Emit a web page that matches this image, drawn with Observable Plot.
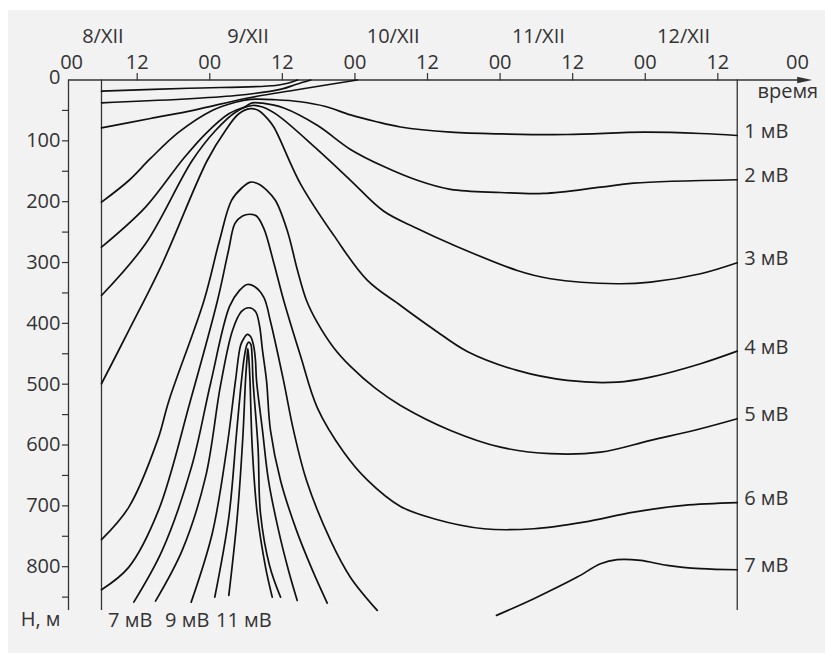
<!DOCTYPE html>
<html>
<head>
<meta charset="utf-8">
<script src="https://cdn.jsdelivr.net/npm/d3@7"></script>
<script src="https://cdn.jsdelivr.net/npm/@observablehq/plot@0.6"></script>
<style>
  body { margin: 0; background: #ffffff; }
  #panel { position: absolute; left: 8px; top: 10px; width: 817px; height: 643px; background: #f2f2f2; }
  #chart { position: absolute; left: 0; top: 0; }
</style>
</head>
<body>
<div id="panel"></div>
<div id="chart"></div>
<script>
// ---- Data: time in hours from 8/XII 00:00, depth H in metres ----
const surfaceA = [[6.1,18.4],[20.5,13.6],[34.9,9.0],[36.9,5.3],[38.5,0]];
const surfaceB = [[6.1,37.5],[28.3,25.5],[36.0,14.5],[38.2,7.4],[40.7,0]];
const surfaceC = [[6.1,78.6],[14.2,63.3],[21.64,49.0],[29.91,30.4],[38.17,16.4],[48.38,0]];

const mv1 = [[6.10,200.8],[10.62,165.2],[14.20,129.0],[18.88,85.8],[24.40,50.1],[28.26,36.5],[30.74,31.9],[34.87,32.5],[39.00,35.8],[43.14,43.6],[47.27,57.4],[51.41,68.2],[55.54,77.2],[63.81,85.6],[72.07,88.6],[83.10,89.6],[95.77,85.8],[105.14,87.9],[111.21,91.2]];
const mv2 = [[6.10,274.8],[13.38,209.0],[19.66,129.0],[23.30,88.4],[27.15,55.5],[29.91,43.6],[31.02,37.6],[32.72,38.1],[36.24,46.0],[41.77,74.4],[47.27,114.1],[52.78,142.3],[58.30,164.8],[63.81,179.9],[72.07,184.9],[79.18,186.5],[88.61,176.2],[94.06,169.6],[111.21,164.0]];
const mv3 = [[6.10,354.2],[13.38,269.2],[21.10,132.3],[24.95,83.0],[28.26,52.9],[31.02,41.9],[32.72,44.4],[35.15,57.4],[41.77,114.1],[47.27,164.8],[52.78,215.8],[58.30,244.0],[63.81,269.2],[74.83,313.1],[80.34,326.7],[91.37,334.9],[96.88,332.3],[105.14,318.5],[111.21,300.4]];
const mv4 = [[6.10,499.3],[10.62,411.7],[16.14,302.1],[23.58,132.3],[26.60,83.0],[28.80,55.5],[30.74,47.2],[32.06,50.1],[33.50,63.1],[34.59,77.2],[39.00,170.6],[44.51,255.4],[50.03,329.0],[55.54,370.6],[61.05,410.0],[66.57,446.2],[74.83,477.4],[83.10,493.8],[91.37,496.6],[96.88,488.4],[105.14,466.4],[111.21,445.7]];
const mv5 = [[6.10,755.6],[10.62,702.1],[15.36,592.4],[17.26,526.7],[23.05,362.4],[25.61,263.8],[27.60,198.0],[29.37,176.7],[30.74,167.8],[32.06,170.9],[33.50,181.9],[34.87,198.0],[36.81,247.3],[38.51,313.1],[40.00,362.4],[41.77,398.5],[44.46,439.6],[47.27,470.8],[51.41,507.0],[55.54,534.9],[63.81,576.0],[72.07,603.5],[80.34,614.3],[88.61,611.7],[96.88,592.4],[105.14,573.2],[111.21,556.8]];
const mv6 = [[6.10,837.8],[10.62,800.7],[15.52,707.5],[20.81,526.7],[25.28,362.4],[27.10,280.2],[28.17,235.8],[29.41,223.5],[30.62,220.7],[31.73,223.5],[32.94,244.0],[34.59,300.7],[36.24,363.0],[39.00,453.4],[41.77,538.4],[46.16,611.8],[50.03,657.2],[55.54,700.9],[61.05,721.1],[69.31,737.6],[77.58,737.6],[85.85,726.7],[94.11,710.3],[102.38,699.3],[111.21,694.8]];
const mv7 = [[11.44,858.2],[16.14,773.2],[20.98,636.3],[24.13,498.8],[27.27,372.2],[28.92,345.9],[30.19,336.1],[31.40,339.4],[32.94,357.3],[34.04,396.9],[36.19,493.8],[37.85,576.0],[40.00,658.2],[43.97,756.8],[47.27,817.6],[51.69,871.8]];
const mv7right = [[71.41,880],[77.58,852.6],[84.76,817.1],[88.61,795.1],[91.37,788.5],[95.22,789.7],[99.64,797.9],[105.14,803.3],[111.21,805.0]];
const mv8 = [[15.03,856.5],[19.44,773.2],[23.30,652.8],[25.78,502.0],[27.76,411.7],[29.25,380.4],[30.46,374.4],[31.56,380.4],[32.22,403.5],[32.72,444.5],[33.38,493.8],[34.04,576.0],[35.70,658.2],[38.34,740.3],[40.99,806.1],[43.42,859.8]];
const mv9 = [[20.93,858.2],[24.40,745.8],[26.77,608.9],[28.26,493.8],[29.09,436.3],[29.63,424.8],[30.19,418.2],[30.74,421.5],[31.24,436.3],[31.56,461.0],[31.73,493.8],[32.72,576.0],[33.71,658.2],[35.37,740.3],[37.02,806.1],[38.46,855.4]];
const mv10 = [[24.83,850.0],[27.15,718.5],[28.42,581.4],[29.25,493.8],[29.75,452.8],[30.16,434.7],[30.46,430.9],[30.79,434.7],[30.99,452.8],[31.15,493.8],[31.98,603.5],[32.39,712.9],[33.88,797.9],[35.70,850.0]];
const mv11 = [[27.15,847.2],[28.54,718.5],[29.50,581.4],[29.91,493.8],[30.16,457.7],[30.29,441.7],[30.46,457.7],[30.65,493.8],[31.02,603.5],[31.85,712.9],[33.22,800.7],[34.33,850.0]];

// observation period (vertical lines) and axis extents
const periodBounds = [6.1, 111.21];
const timeStart = 0.645;      // left edge of the time axis
const timeArrowEnd = 123.6;   // tip of the time arrow
const depthMax = 872;

// tick labels
const timeTicks = [12, 24, 36, 48, 60, 72, 84, 96, 108];
const timeEnds = [0, 120];
const dayLabels = ["8/XII", "9/XII", "10/XII", "11/XII", "12/XII"];
const dayHours = [6, 30, 54, 78, 102];
const depthTicks = [50,100,150,200,250,300,350,400,450,500,550,600,650,700,750,800,850];
const rightLabels = ["1 мВ", "2 мВ", "3 мВ", "4 мВ", "5 мВ", "6 мВ", "7 мВ"];
const bottomLabels = ["7 мВ", "9 мВ", "11 мВ"];
const bottomLabelHours = [10.85, 20.27, 29.63];

// ---- build table ----
const allSeries = {surfaceA, surfaceB, surfaceC, mv1, mv2, mv3, mv4, mv5, mv6, mv7, mv7right, mv8, mv9, mv10, mv11};
const rows = Object.entries(allSeries).flatMap(([name, pts]) =>
  pts.map(([hour, depth]) => ({series: name, hour, depth})));
const rightSeries = [mv1, mv2, mv3, mv4, mv5, mv6, mv7right];
const rightTable = rightSeries.map((pts, i) => ({hour: pts.at(-1)[0], depth: pts.at(-1)[1], label: rightLabels[i]}));

const ink = "#333333";
const arrowHead = {
  draw(ctx) { ctx.moveTo(0, 0); ctx.lineTo(-15, -3.3); ctx.lineTo(-15, 3.3); ctx.closePath(); }
};

const chart = Plot.plot({
  width: 825,
  height: 653,
  marginLeft: 68,
  marginTop: 79.5,
  marginRight: 35.1,
  marginBottom: 43,
  x: {domain: [timeStart, 120], range: [68, 789.9], axis: null},
  y: {domain: [0, depthMax], range: [79.5, 610], axis: null},
  style: {background: "transparent", fontFamily: "'Open Sans', sans-serif", fontSize: "20px", color: ink, overflow: "visible"},
  marks: [
    // axes lines
    Plot.ruleY([0], {x1: timeStart, x2: timeArrowEnd - 1, stroke: ink, strokeWidth: 1.3}),
    Plot.dot([timeArrowEnd], {x: d => d, y: 0, symbol: arrowHead, fill: ink, stroke: "none", r: 4}),
    Plot.ruleX([timeStart], {y1: 0, y2: depthMax, stroke: ink, strokeWidth: 1.3}),
    Plot.ruleX(periodBounds, {y1: 0, y2: depthMax, stroke: ink, strokeWidth: 1.3}),
    // time axis
    Plot.axisX(timeTicks, {anchor: "top", tickSize: 7.5, tickFormat: () => "", stroke: ink, strokeWidth: 1.2, label: null}),
    Plot.text(timeTicks, {x: d => d, y: 0, text: d => d % 24 === 0 ? "00" : "12", dy: -17, fill: ink, lineAnchor: "middle"}),
    Plot.text(timeEnds, {x: d => d, y: 0, text: () => "00", dx: 7, dy: -17, fill: ink, lineAnchor: "middle"}),
    Plot.text(dayLabels, {x: (d, i) => dayHours[i], y: 0, text: d => d, dx: 2, dy: -43.7, fill: ink, lineAnchor: "middle"}),
    Plot.text(["время"], {x: timeArrowEnd, y: 0, text: d => d, dx: 6, dy: 11.4, textAnchor: "end", fill: ink, lineAnchor: "middle"}),
    // depth axis
    Plot.axisY(depthTicks, {anchor: "left", tickSize: 6, tickPadding: 2, tickFormat: d => d % 100 === 0 ? String(d) : "", stroke: ink, strokeWidth: 1.2, fill: ink, label: null}),
    Plot.text(["0"], {x: timeStart, y: 0, text: d => d, dx: -8, dy: -2, textAnchor: "end", fill: ink, lineAnchor: "middle"}),
    Plot.text(["H, м"], {x: timeStart, y: depthMax, text: d => d, dx: -8, dy: 9, textAnchor: "end", fill: ink, lineAnchor: "middle"}),
    // isolines
    Plot.line(rows, {x: "hour", y: "depth", z: "series", curve: "catmull-rom", stroke: "#111111", strokeWidth: 1.7}),
    // labels
    Plot.text(rightTable, {x: "hour", y: "depth", text: "label", dx: 7, dy: -4, textAnchor: "start", fill: ink, lineAnchor: "middle"}),
    Plot.text(bottomLabels, {x: (d, i) => bottomLabelHours[i], y: depthMax, text: d => d, dy: 10.5, fill: ink, lineAnchor: "middle"})
  ]
});
document.getElementById("chart").appendChild(chart);
</script>
</body>
</html>
